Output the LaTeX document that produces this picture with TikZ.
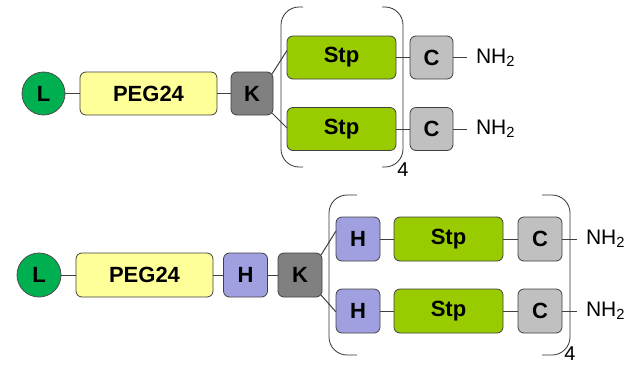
\documentclass[tikz,border=0pt]{standalone}
\usepackage{fontspec}
\setmainfont{Liberation Sans}
\begin{document}
\begin{tikzpicture}[x=1pt,y=-1pt,
  base/.style={draw=black!75, line width=0.8pt, rounded corners=6pt, inner sep=0pt, outer sep=0pt,
    font=\fontsize{22}{24}\selectfont\bfseries},
  lnode/.style={base, circle, fill=Lgreen, draw=black!70, minimum size=43pt},
  pegbox/.style={base, fill=pegyellow, minimum width=137pt, minimum height=43pt},
  kbox/.style={base, fill=kgray, minimum width=42pt, minimum height=43pt},
  hbox/.style={base, fill=hblue, minimum width=44pt, minimum height=44pt},
  stpbox/.style={base, fill=stpgreen, minimum width=109pt, minimum height=43pt},
  cbox/.style={base, fill=cgray, minimum width=43pt, minimum height=43pt},
  nhlabel/.style={anchor=west, inner xsep=9pt, inner ysep=0pt, outer sep=0pt, font=\fontsize{21}{24}\selectfont},
  conn/.style={draw=black!75, line width=1pt},
  brk/.style={draw=black!80, line width=0.8pt, rounded corners=18pt},
  rep/.style={inner sep=0pt, font=\fontsize{20}{22}\selectfont}
]
\definecolor{Lgreen}{RGB}{0,176,80}
\definecolor{pegyellow}{RGB}{255,255,153}
\definecolor{kgray}{RGB}{128,128,128}
\definecolor{hblue}{RGB}{160,160,224}
\definecolor{stpgreen}{RGB}{153,204,0}
\definecolor{cgray}{RGB}{192,192,192}
\useasboundingbox (0,0) rectangle (634,365);

% ---- top construct ----
\node[lnode] (L1) at (43.5,93.5) {L};
\node[pegbox] (P1) at (148.5,93.5) {PEG24};
\node[kbox] (K1) at (252,93.5) {K};
\node[stpbox] (S1a) at (341.5,57.5) {Stp};
\node[stpbox] (S1b) at (341.5,129) {Stp};
\node[cbox] (C1a) at (431.5,57.5) {C};
\node[cbox] (C1b) at (431.5,129) {C};
\node[nhlabel] (N1a) at (467,57.5) {NH\textsubscript{2}};
\node[nhlabel] (N1b) at (467,129) {NH\textsubscript{2}};

\draw[conn] (L1) -- (P1);
\draw[conn] (P1) -- (K1);
\draw[conn] ([xshift=-1pt,yshift=-2pt]K1.north east) -- ([yshift=7pt]S1a.west);
\draw[conn] ([xshift=-1pt,yshift=2pt]K1.south east) -- ([yshift=1pt]S1b.west);
\draw[conn] (S1a) -- (C1a);
\draw[conn] (S1b) -- (C1b);
\draw[conn] (C1a) -- (N1a.west);
\draw[conn] (C1b) -- (N1b.west);

\draw[brk] (303,7) -- (281,7) -- (281,167) -- (303,167);
\draw[brk] (382,7) -- (403,7) -- (403,167) -- (382,167);
\node[rep] (R1) at (403,170) {4};

% ---- bottom construct ----
\node[lnode, minimum size=44pt] (L2) at (39,275) {L};
\node[pegbox, minimum height=44pt] (P2) at (144.5,275) {PEG24};
\node[hbox] (H2) at (245.5,275) {H};
\node[kbox, minimum width=44pt, minimum height=44pt] (K2) at (300,275) {K};
\node[hbox] (H2a) at (358,239) {H};
\node[hbox] (H2b) at (358,311) {H};
\node[stpbox, minimum height=44pt] (S2a) at (448.5,239) {Stp};
\node[stpbox, minimum height=44pt] (S2b) at (448.5,311) {Stp};
\node[cbox, minimum size=44pt] (C2a) at (540,239) {C};
\node[cbox, minimum size=44pt] (C2b) at (540,311) {C};
\node[nhlabel] (N2a) at (577,239) {NH\textsubscript{2}};
\node[nhlabel] (N2b) at (577,311) {NH\textsubscript{2}};

\draw[conn] (L2) -- (P2);
\draw[conn] (P2) -- (H2);
\draw[conn] (H2) -- (K2);
\draw[conn] ([xshift=-1pt,yshift=-2pt]K2.north east) -- ([yshift=8pt]H2a.west);
\draw[conn] ([xshift=-1pt,yshift=2pt]K2.south east) -- ([yshift=-1pt]H2b.west);
\draw[conn] (H2a) -- (S2a);
\draw[conn] (H2b) -- (S2b);
\draw[conn] (S2a) -- (C2a);
\draw[conn] (S2b) -- (C2b);
\draw[conn] (C2a) -- (N2a.west);
\draw[conn] (C2b) -- (N2b.west);

\draw[brk] (357,195) -- (329,195) -- (329,355) -- (357,355);
\draw[brk] (542,195) -- (570,195) -- (570,355) -- (542,355);
\node[rep] (R2) at (570,353.5) {4};
\end{tikzpicture}
\end{document}
